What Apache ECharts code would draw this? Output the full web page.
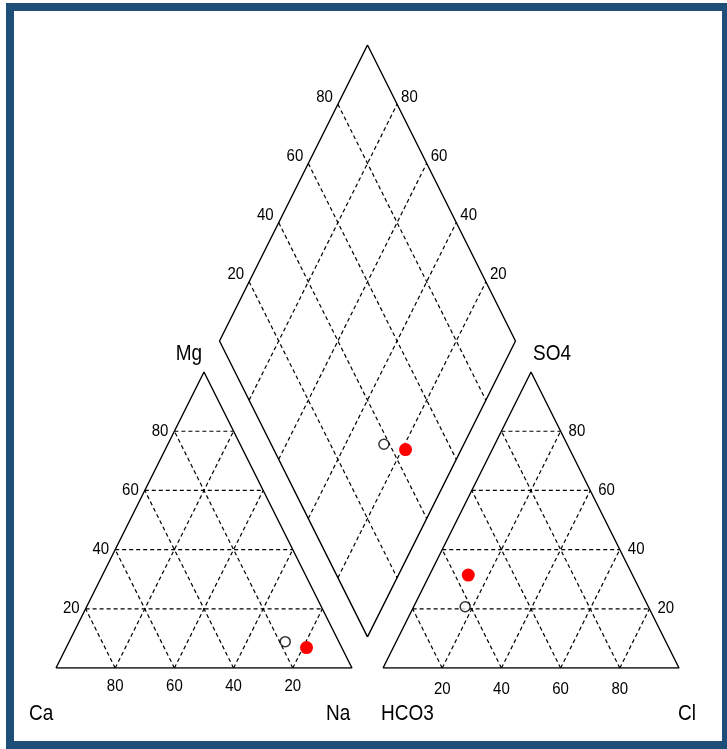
<!DOCTYPE html>
<html>
<head>
<meta charset="utf-8">
<script src="https://cdn.jsdelivr.net/npm/echarts@6/dist/echarts.min.js"></script>
<style>
  html, body { margin: 0; padding: 0; background: #fff; }
  #chart { width: 727px; height: 749px; }
</style>
</head>
<body>
<div id="chart"></div>
<script>
// cation shares in percent, one entry per sample
const caValues = [18.1, 11.9];
const mgValues = [8.9, 6.9];
const naValues = [73.0, 81.2];
// anion shares in percent
const hco3Values = [61.9, 55.5];
const so4Values = [20.7, 31.4];
const clValues = [17.4, 13.1];
// grid / tick values
const gridTicks = [20, 40, 60, 80];

const GAP = 10.5;          // gap between the two triangles
const R0 = 100 + GAP;      // left corner of the anion triangle
const FONT = '"Liberation Sans", Arial, sans-serif';

// triangle height equals base here, the plot is stretched vertically
function cationXY(ca, mg, na) { return [na + mg / 2, mg]; }
function anionXY(hco3, so4, cl) { return [R0 + cl + so4 / 2, so4]; }
function diamondXY(na, clso4) {
  const t = R0 + clso4 - na;
  return [na + t / 2, t];
}

function lineSeries(points, dashed) {
  return {
    type: 'line',
    data: points,
    symbol: 'none',
    silent: true,
    animation: false,
    lineStyle: { color: '#000', width: dashed ? 1.2 : 1.4, type: dashed ? [4, 3] : 'solid' },
    z: dashed ? 1 : 2
  };
}

const series = [];

// dashed grid
gridTicks.forEach(v => {
  series.push(lineSeries([cationXY(100 - v, v, 0), cationXY(0, v, 100 - v)], true));
  series.push(lineSeries([cationXY(v, 0, 100 - v), cationXY(v, 100 - v, 0)], true));
  series.push(lineSeries([cationXY(100 - v, 0, v), cationXY(0, 100 - v, v)], true));
  series.push(lineSeries([anionXY(100 - v, v, 0), anionXY(0, v, 100 - v)], true));
  series.push(lineSeries([anionXY(v, 0, 100 - v), anionXY(v, 100 - v, 0)], true));
  series.push(lineSeries([anionXY(100 - v, 0, v), anionXY(0, 100 - v, v)], true));
  series.push(lineSeries([diamondXY(v, 0), diamondXY(v, 100)], true));
  series.push(lineSeries([diamondXY(0, v), diamondXY(100, v)], true));
});

// outlines
series.push(lineSeries([cationXY(100, 0, 0), cationXY(0, 0, 100), cationXY(0, 100, 0), cationXY(100, 0, 0)], false));
series.push(lineSeries([anionXY(100, 0, 0), anionXY(0, 0, 100), anionXY(0, 100, 0), anionXY(100, 0, 0)], false));
series.push(lineSeries([diamondXY(100, 0), diamondXY(100, 100), diamondXY(0, 100), diamondXY(0, 0), diamondXY(100, 0)], false));

// sample points
const sampleStyles = [
  { symbolSize: 10, itemStyle: { color: '#fff', borderColor: '#000', borderWidth: 1.5 } },
  { symbolSize: 13, itemStyle: { color: '#ff0000', borderWidth: 0, opacity: 1 } }
];
caValues.forEach((ca, i) => {
  const pts = [
    cationXY(ca, mgValues[i], naValues[i]),
    anionXY(hco3Values[i], so4Values[i], clValues[i]),
    diamondXY(naValues[i], clValues[i] + so4Values[i])
  ];
  series.push(Object.assign({
    type: 'scatter',
    data: pts,
    symbol: 'circle',
    animation: false,
    z: 5
  }, sampleStyles[i]));
});

const chart = echarts.init(document.getElementById('chart'));
chart.setOption({
  backgroundColor: '#fff',
  animation: false,
  grid: { left: 56, top: 45, width: 623, height: 623 },
  xAxis: { type: 'value', min: 0, max: 210.5, show: false, splitLine: { show: false } },
  yAxis: { type: 'value', min: 0, max: 210.5, show: false, splitLine: { show: false } },
  series: series
});

// text is placed through the grid's own scale
function px(p) { return chart.convertToPixel({ gridIndex: 0 }, p); }
function label(p, text, dx, dy, align, size) {
  const q = px(p);
  return {
    type: 'text',
    x: q[0] + dx,
    y: q[1] + dy,
    scaleY: 1.12,
    silent: true,
    style: {
      text: text,
      font: size + 'px ' + FONT,
      fill: '#000',
      align: align,
      verticalAlign: 'middle'
    }
  };
}

const texts = [];
gridTicks.forEach(v => {
  texts.push(label(cationXY(100 - v, v, 0), String(v), -6, 0, 'right', 15));
  texts.push(label(cationXY(v, 0, 100 - v), String(v), 0, 18, 'center', 15));
  texts.push(label(anionXY(0, v, 100 - v), String(v), 8, 0, 'left', 15));
  texts.push(label(anionXY(100 - v, 0, v), String(v), 0, 21, 'center', 15));
  texts.push(label(diamondXY(0, v), String(v), -5, -7, 'right', 15));
  texts.push(label(diamondXY(100 - v, 100), String(v), 4, -7, 'left', 15));
});
texts.push(label(cationXY(0, 100, 0), 'Mg', -15, -18, 'center', 19));
texts.push(label(anionXY(0, 100, 0), 'SO4', 21, -18, 'center', 19));
texts.push(label(cationXY(100, 0, 0), 'Ca', -27, 46, 'left', 19));
texts.push(label(cationXY(0, 0, 100), 'Na', -26, 46, 'left', 19));
texts.push(label(anionXY(100, 0, 0), 'HCO3', -2, 46, 'left', 19));
texts.push(label(anionXY(0, 0, 100), 'Cl', -1, 46, 'left', 19));

// frame
texts.push({
  type: 'rect',
  silent: true,
  shape: { x: 10, y: 7, width: 716, height: 738 },
  style: { fill: 'none', stroke: '#1f4e79', lineWidth: 8 }
});

chart.setOption({ graphic: texts });
</script>
</body>
</html>
